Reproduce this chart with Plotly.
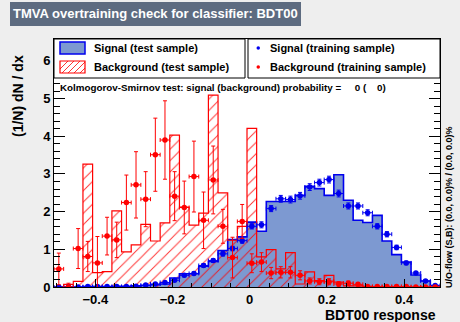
import numpy as np
import plotly.graph_objects as go

# Binning of the BDT00 response histograms
XMIN, XMAX, NBINS = -0.507, 0.493, 40

# Signal, test sample (filled histogram)
sig_test = [0, 0, 0, 0.01, 0.01, 0.01, 0.02, 0.02, 0.03, 0.04,
            0.06, 0.08, 0.24, 0.35, 0.35, 0.55, 0.68, 0.97, 1.26, 1.33,
            1.72, 1.48, 2.27, 2.27, 2.27, 2.43, 2.67, 2.61, 2.43, 2.98,
            2.30, 1.77, 1.71, 1.90, 1.22, 0.86, 0.66, 0.32, 0.16, 0.04]

# Background, test sample (hatched histogram)
bkg_test = [0, 0.07, 0.15, 3.26, 0.38, 0.41, 2.02, 0.93, 1.12, 1.66,
            1.22, 1.70, 4.03, 2.12, 1.64, 1.96, 5.09, 2.50, 1.24, 1.61,
            4.21, 0.80, 0.99, 0.48, 0.91, 0.08, 0.40, 0.17, 0.31, 0.13,
            0.03, 0.03, 0.02, 0, 0, 0, 0, 0, 0, 0]

# Signal, training sample (points)
sig_train = [0, 0, 0, 0.01, 0.01, 0.01, 0.01, 0.01, 0.02, 0.05,
             0.08, 0.12, 0.18, 0.31, 0.36, 0.57, 0.70, 0.88, 1.02, 1.23,
             1.61, 1.65, 2.08, 2.34, 2.32, 2.42, 2.65, 2.77, 2.85, 2.48,
             2.15, 2.15, 1.97, 1.61, 1.40, 1.05, 0.64, 0.37, 0.16, 0.04]
sig_train_err = [0, 0, 0, 0.01, 0.01, 0.01, 0.01, 0.01, 0.01, 0.02,
                 0.02, 0.03, 0.03, 0.04, 0.04, 0.05, 0.05, 0.06, 0.06, 0.07,
                 0.07, 0.08, 0.08, 0.09, 0.09, 0.09, 0.09, 0.09, 0.09, 0.09,
                 0.08, 0.08, 0.08, 0.07, 0.07, 0.06, 0.05, 0.04, 0.03, 0.02]

# Background, training sample (points)
bkg_train = [0.48, 0.0, 1.02, 0.81, 0.64, 1.35, 1.25, 2.24, 2.71, 2.33,
             3.51, 3.90, 2.41, 2.11, 2.93, 1.77, 2.84, 1.61, 0.78, 1.74,
             0.63, 0.66, 0.37, 0.39, 0.39, 0.31, 0.16, 0.14, 0.14, 0.08,
             0.10, 0.07, 0.01, 0.01, 0.01, 0.01, 0.01, 0.0, 0.0, 0.0]
bkg_train_err = [0.42, 0.10, 0.53, 0.40, 0.70, 0.50, 0.47, 0.73, 0.88, 0.73,
                 0.97, 1.04, 0.65, 0.70, 0.94, 0.75, 0.90, 0.45, 0.54, 0.45,
                 0.25, 0.25, 0.15, 0.15, 0.15, 0.12, 0.08, 0.08, 0.08, 0.06,
                 0.06, 0.05, 0.02, 0.02, 0.02, 0.02, 0.02, 0, 0, 0]

edges = np.linspace(XMIN, XMAX, NBINS + 1)
centers = 0.5 * (edges[:-1] + edges[1:])
bw = edges[1] - edges[0]

SIG_FILL = "#7d99d1"
SIG_LINE = "#0000ee"
BKG_LINE = "#ff0000"
FONT = "Liberation Sans"

W, H = 460, 322
ML, MR, MT, MB = 54, 20, 39, 35
PW, PH = W - ML - MR, H - MT - MB


def px(x):
    return (x - ML) / PW


def py(y):
    return 1 - (y - MT) / PH


def step(vals):
    xs = [edges[0]] + list(edges) + [edges[-1]]
    ys = [0] + list(vals) + [vals[-1], 0]
    return xs, ys


fig = go.Figure()

fig.add_trace(go.Bar(x=centers, y=sig_test, width=bw, marker=dict(color=SIG_FILL, line_width=0)))
sx, sy = step(sig_test)
fig.add_trace(go.Scatter(x=sx, y=sy, mode="lines", line=dict(color=SIG_LINE, width=1.6, shape="hv")))

fig.add_trace(go.Bar(
    x=centers, y=bkg_test, width=bw,
    marker=dict(color=BKG_LINE, line_width=0,
                pattern=dict(shape="/", fgcolor=BKG_LINE, bgcolor="rgba(0,0,0,0)",
                             size=8, solidity=0.12, fgopacity=0.8))))
bx, by = step(bkg_test)
fig.add_trace(go.Scatter(x=bx, y=by, mode="lines", line=dict(color=BKG_LINE, width=1.2, shape="hv")))

for vals, errs, col in [(sig_train, sig_train_err, SIG_LINE), (bkg_train, bkg_train_err, BKG_LINE)]:
    fig.add_trace(go.Scatter(
        x=centers, y=vals, mode="markers",
        marker=dict(color=col, size=5.5, symbol="circle"),
        error_y=dict(type="data", array=errs, color=col, thickness=1, width=2),
        error_x=dict(type="constant", value=bw / 2, color=col, thickness=1, width=2)))

axis_font = dict(family=FONT, size=13, color="black", weight="bold")
fig.update_xaxes(range=[XMIN, XMAX], showline=True, linecolor="black", linewidth=1, mirror="allticks",
                 ticks="inside", ticklen=8, tickcolor="black", dtick=0.2, tick0=0,
                 minor=dict(ticks="inside", ticklen=4, dtick=0.05, tickcolor="black"),
                 showgrid=False, zeroline=False, tickfont=axis_font)
fig.update_yaxes(range=[0, 6.58], showline=True, linecolor="black", linewidth=1, mirror="allticks",
                 ticks="inside", ticklen=11, tickcolor="black", dtick=1, tick0=0,
                 minor=dict(ticks="inside", ticklen=6, dtick=0.2, tickcolor="black"),
                 showgrid=False, zeroline=False, tickfont=axis_font)

shapes = []
ann = []

# title box
shapes.append(dict(type="rect", xref="paper", yref="paper", x0=px(10), x1=px(301), y0=py(26), y1=py(2),
                   fillcolor="#5d6b80", line=dict(width=0), layer="above"))
ann.append(dict(text="TMVA overtraining check for classifier: BDT00", xref="paper", yref="paper",
                x=px(155.5), y=py(14), xanchor="center", yanchor="middle", showarrow=False,
                font=dict(family=FONT, size=13, color="white", weight="bold")))

# legend boxes
for x0, x1 in [(54, 245), (248, 440)]:
    shapes.append(dict(type="rect", xref="paper", yref="paper", x0=px(x0), x1=px(x1), y0=py(78), y1=py(39),
                       fillcolor="white", line=dict(color="black", width=1), layer="above"))
# signal swatch
shapes.append(dict(type="rect", xref="paper", yref="paper", x0=px(60), x1=px(85), y0=py(54), y1=py(42),
                   fillcolor=SIG_FILL, line=dict(color=SIG_LINE, width=1.5), layer="above"))
# background swatch with hatching
shapes.append(dict(type="rect", xref="paper", yref="paper", x0=px(60), x1=px(85), y0=py(73), y1=py(61),
                   fillcolor="white", line=dict(color=BKG_LINE, width=1.2), layer="above"))
for k in range(5):
    xa = 56 + 6 * k
    x0, y0, x1, y1 = xa, 73, xa + 12, 61
    if x0 < 60:
        y0 -= (60 - x0); x0 = 60
    if x1 > 85:
        y1 += (x1 - 85); x1 = 85
    shapes.append(dict(type="line", xref="paper", yref="paper", x0=px(x0), x1=px(x1), y0=py(y0), y1=py(y1),
                       line=dict(color=BKG_LINE, width=0.8), layer="above"))

leg_font = dict(family=FONT, size=11, color="black", weight="bold")
for txt, yy in [("Signal (test sample)", 48), ("Background (test sample)", 67)]:
    ann.append(dict(text=txt, xref="paper", yref="paper", x=px(92), y=py(yy), xanchor="left",
                    yanchor="middle", showarrow=False, font=leg_font))
for txt, yy, col in [("Signal (training sample)", 48, SIG_LINE), ("Background (training sample)", 67, BKG_LINE)]:
    shapes.append(dict(type="circle", xref="paper", yref="paper", x0=px(256.5), x1=px(260), y0=py(yy + 1.7),
                       y1=py(yy - 1.7), fillcolor=col, line=dict(width=0), layer="above"))
    ann.append(dict(text=txt, xref="paper", yref="paper", x=px(268), y=py(yy), xanchor="left",
                    yanchor="middle", showarrow=False, font=leg_font))

ann.append(dict(text="Kolmogorov-Smirnov test: signal (background) probability =     0 (    0)",
                xref="paper", yref="paper", x=px(58), y=py(87), xanchor="left", yanchor="middle",
                showarrow=False, font=dict(family=FONT, size=9.8, color="black", weight="bold")))

ann.append(dict(text="(1/N) dN / dx", xref="paper", yref="paper", x=px(18), y=py(96), textangle=-90,
                xanchor="center", yanchor="middle", showarrow=False,
                font=dict(family=FONT, size=14, color="black", weight="bold")))
ann.append(dict(text="BDT00 response", xref="paper", yref="paper", x=px(438), y=py(315), xanchor="right",
                yanchor="middle", showarrow=False, font=dict(family=FONT, size=14, color="black", weight="bold")))
ann.append(dict(text="U/O-flow (S,B): (0.0, 0.0)% / (0.0, 0.0)%", xref="paper", yref="paper", x=px(449),
                y=py(207), textangle=-90, xanchor="center", yanchor="middle", showarrow=False,
                font=dict(family=FONT, size=9, color="black", weight="bold")))

fig.update_layout(width=W, height=H, margin=dict(l=ML, r=MR, t=MT, b=MB),
                  paper_bgcolor="#eeeeee", plot_bgcolor="white", showlegend=False,
                  barmode="overlay", bargap=0, shapes=shapes, annotations=ann)

fig.write_html("out.html")
